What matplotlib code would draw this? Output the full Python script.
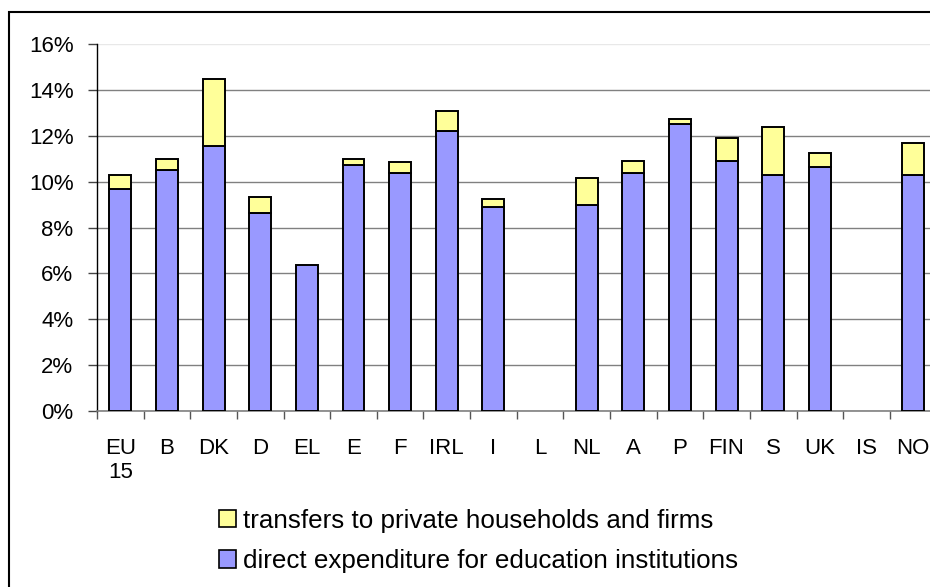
import numpy as np
import matplotlib
matplotlib.use("Agg")
import matplotlib.pyplot as plt
from matplotlib.patches import Rectangle, Patch

plt.rcParams['font.family'] = ['Liberation Sans', 'DejaVu Sans']

# Countries and values (% share)
countries = ["EU\n15", "B", "DK", "D", "EL", "E", "F", "IRL", "I", "L",
             "NL", "A", "P", "FIN", "S", "UK", "IS", "NO"]
direct = [9.7, 10.5, 11.55, 8.65, 6.35, 10.75, 10.4, 12.2, 8.9, 0,
          9.0, 10.4, 12.5, 10.9, 10.3, 10.65, 0, 10.3]
transfers = [0.6, 0.5, 2.95, 0.7, 0, 0.25, 0.45, 0.9, 0.35, 0,
             1.15, 0.5, 0.25, 1.0, 2.1, 0.6, 0, 1.4]
yticks = [0, 2, 4, 6, 8, 10, 12, 14, 16]

blue = "#9999FF"
yellow = "#FFFF99"

fig = plt.figure(figsize=(9.3, 5.87), dpi=100)
ax = fig.add_axes([97 / 930, 1 - 410.7 / 587, 839.4 / 930, 366.4 / 587])

x = np.arange(len(countries))
d = np.array(direct)
t = np.array(transfers)
# skip empty bars (L, IS)
mask = d > 0
ax.bar(x[mask], d[mask], width=0.47, color=blue, edgecolor="black", linewidth=1.4, zorder=3)
tm = t > 0
ax.bar(x[tm], t[tm], bottom=d[tm], width=0.47, color=yellow, edgecolor="black", linewidth=1.4, zorder=3)

ax.set_xlim(-0.5, len(countries) - 0.5)
ax.set_ylim(0, 16)
ax.set_yticks(yticks)
ax.set_yticklabels([f"{v}%" for v in yticks], fontsize=16)
ax.set_xticks(x)
ax.set_xticklabels(countries, fontsize=16, linespacing=1.2)
ax.set_xticks(np.arange(len(countries) + 1) - 0.5, minor=True)
ax.tick_params(axis="x", which="major", length=0, pad=19.5)
ax.tick_params(axis="x", which="minor", length=5.8, width=1, color="#555555", direction="out")
ax.tick_params(axis="y", length=6.5, width=1, color="#444444", pad=10.5)

ax.yaxis.grid(True, color="#808080", linewidth=1.0, zorder=0)
ax.set_axisbelow(True)
ax.get_ygridlines()[-1].set_color("#e8e8e8")
for s in ["top", "right"]:
    ax.spines[s].set_visible(False)
ax.spines["left"].set_color("black")
ax.spines["left"].set_linewidth(1)
ax.spines["bottom"].set_color("#808080")
ax.spines["bottom"].set_linewidth(1.2)

handles = [Patch(facecolor=yellow, edgecolor="black", linewidth=1.2),
           Patch(facecolor=blue, edgecolor="black", linewidth=1.2)]
labels = ["transfers to private households and firms",
          "direct expenditure for education institutions"]
fig.legend(handles, labels, loc="upper left", bbox_to_anchor=(219 / 930, 1 - 509 / 587),
           frameon=False, fontsize=18.7, handlelength=0.64, handleheight=0.64,
           handletextpad=0.3, labelspacing=0.62, borderpad=0, borderaxespad=0)

# outer chart frame
fig.patches.append(Rectangle((9 / 930, -0.1), 1.2, 1 - 11.7 / 587 + 0.1,
                             transform=fig.transFigure, fill=False,
                             edgecolor="black", linewidth=1.5))

fig.savefig("out.png", dpi=100)
